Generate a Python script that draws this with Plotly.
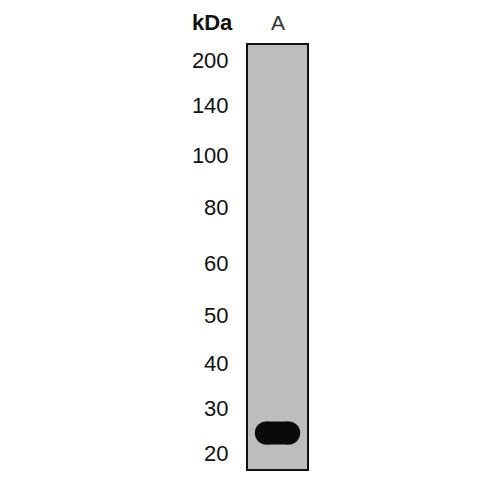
import plotly.graph_objects as go

# marker ladder (kDa) and migration distance from top of lane
marker_kda = ["200", "140", "100", "80", "60", "50", "40", "30", "20"]
marker_pos = [15, 60, 110, 162, 218, 270, 318, 363, 408]

lane_names = ["A"]
band_pos = [388, 388]          # migration of the detected band
band_span = [0.31, 0.69]       # horizontal extent inside lane

fig = go.Figure()

fig.add_trace(go.Scatter(
    x=band_span, y=band_pos, mode="lines+markers",
    line=dict(color="#0a0a0a", width=23),
    marker=dict(size=23, color="#0a0a0a", symbol="circle"),
    hoverinfo="skip", showlegend=False,
))

fig.update_layout(
    width=500, height=500,
    margin=dict(l=240, r=201, t=37, b=39),
    paper_bgcolor="white",
    plot_bgcolor="#bdbdbd",
    font=dict(family="Liberation Sans, Arial, sans-serif", color="#111111"),
    xaxis=dict(range=[0, 1], showticklabels=False, showgrid=False, zeroline=False,
               showline=True, linecolor="#111111", linewidth=2, mirror=True, ticks=""),
    yaxis=dict(range=[424, 0], tickvals=marker_pos, ticktext=marker_kda,
               showgrid=False, zeroline=False, showline=True, linecolor="#111111",
               linewidth=2, mirror=True, ticks="", ticklabelstandoff=13,
               tickfont=dict(size=22, color="#111111")),
)

# kDa title left of the lane
fig.add_annotation(text="<b>kDa</b>", x=0, y=1.0, xref="x domain", yref="y domain",
                   xanchor="right", yanchor="middle", xshift=-13, yshift=23,
                   showarrow=False, font=dict(size=22, color="#111111"))

# lane label above the lane
fig.add_annotation(text=lane_names[0], x=0.5, y=1.0, xref="x domain", yref="y domain",
                   xanchor="center", yanchor="middle", yshift=23,
                   showarrow=False, font=dict(size=21, color="#333333"))

fig.write_html("out.html")
